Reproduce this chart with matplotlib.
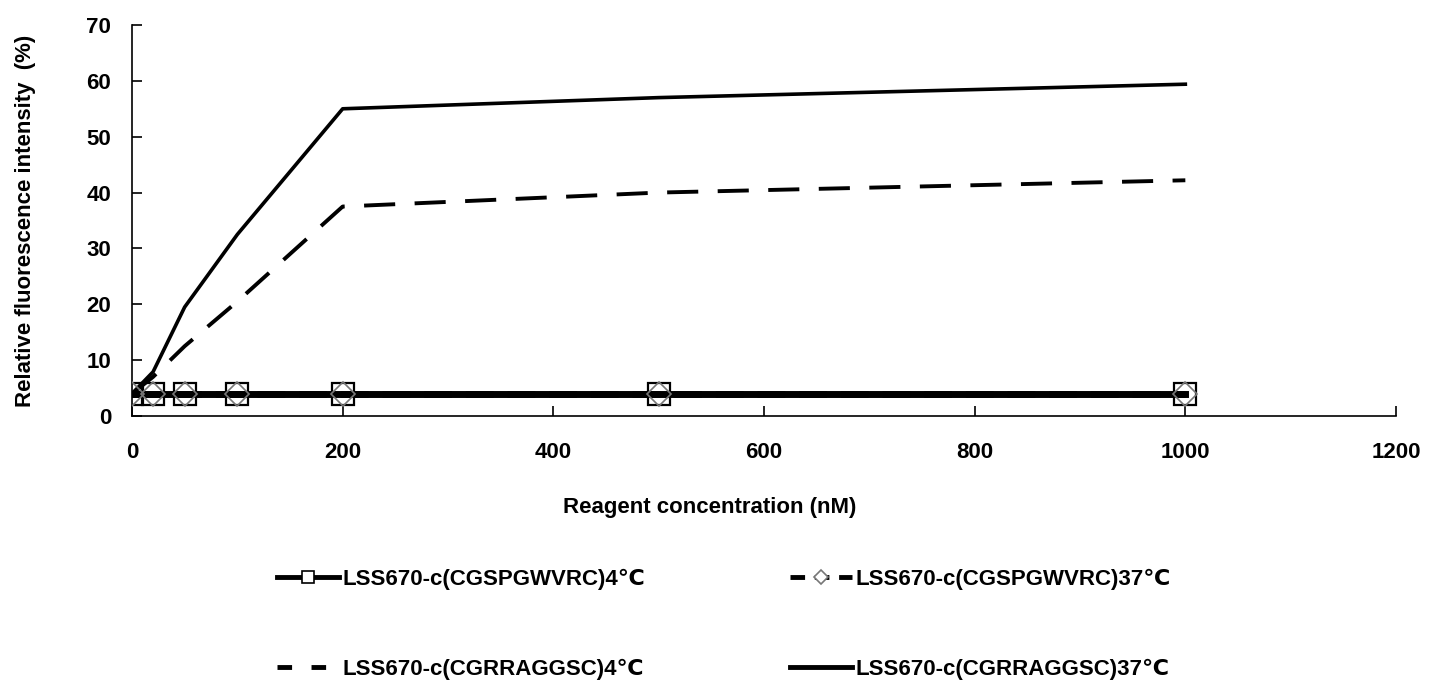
import matplotlib.pyplot as plt
from matplotlib.lines import Line2D

plt.rcParams['font.family'] = ['Liberation Sans', 'DejaVu Sans']
plt.rcParams['font.weight'] = 'bold'

conc = [0, 20, 50, 100, 200, 500, 1000]
spg_4 = [4, 4, 4, 4, 4, 4, 4]
spg_37 = [4, 4, 4, 4, 4, 4, 4]
rra_4 = [4, 7, 12.5, 20.5, 37.5, 40, 42.2]
rra_37 = [4, 7.9, 19.5, 32.5, 55, 57, 59.4]

labels = ['LSS670-c(CGSPGWVRC)4\u2103', 'LSS670-c(CGSPGWVRC)37\u2103',
          'LSS670-c(CGRRAGGSC)4\u2103', 'LSS670-c(CGRRAGGSC)37\u2103']

fig = plt.figure(figsize=(14.41, 7), dpi=100)
ax = fig.add_axes([132/1441, 1-416/700, (1396-132)/1441, (416-25)/700])

# thick flat lines with markers
ax.plot(conc, spg_4, '-', color='black', lw=5, marker='s', ms=16,
        mfc='none', mec='black', mew=1.6, zorder=3)
ax.plot(conc, spg_37, '--', color='black', lw=5, marker='D', ms=12,
        mfc='none', mec='#777777', mew=1.2, dashes=(4, 2), zorder=4)
ax.plot(conc, rra_4, color='black', lw=2.8, dashes=(8, 5), zorder=2)
ax.plot(conc, rra_37, '-', color='black', lw=2.6, zorder=2)

ax.set_xlim(0, 1200)
ax.set_ylim(0, 70)
ax.set_xticks(range(0, 1201, 200))
ax.set_yticks(range(0, 71, 10))
ax.spines['top'].set_visible(False)
ax.spines['right'].set_visible(False)
for s in ['left', 'bottom']:
    ax.spines[s].set_linewidth(1.2)
ax.tick_params(axis='both', direction='in', length=7, width=1.2, labelsize=16)
ax.tick_params(axis='x', pad=19)
ax.tick_params(axis='y', pad=15)
for t in ax.get_xticklabels() + ax.get_yticklabels():
    t.set_fontweight('bold')

ax.set_ylabel('Relative fluorescence intensity  (%)', fontsize=16, fontweight='bold', labelpad=36)
fig.text(710/1441, 1-507/700, 'Reagent concentration (nM)', fontsize=16,
         fontweight='bold', ha='center', va='center')

h1 = Line2D([], [], color='black', lw=3.5, marker='s', ms=9, mfc='white', mec='black', mew=1.2)
h2 = Line2D([], [], color='black', lw=3.5, dashes=(3, 2), marker='D', ms=7, mfc='white', mec='#777777', mew=1.2)
h3 = Line2D([], [], color='black', lw=3.5, dashes=(3, 4))
h4 = Line2D([], [], color='black', lw=3.5)

leg = fig.legend([h1, h3, h2, h4], [labels[0], labels[2], labels[1], labels[3]],
                 ncol=2, loc='upper left', bbox_to_anchor=(277/1441, 1-569/700),
                 frameon=False, fontsize=16, handlelength=2.8, handletextpad=0.15,
                 columnspacing=6.5, labelspacing=3.1, borderpad=0, borderaxespad=0)
for t in leg.get_texts():
    t.set_fontweight('bold')

fig.savefig('out.png', dpi=100)
